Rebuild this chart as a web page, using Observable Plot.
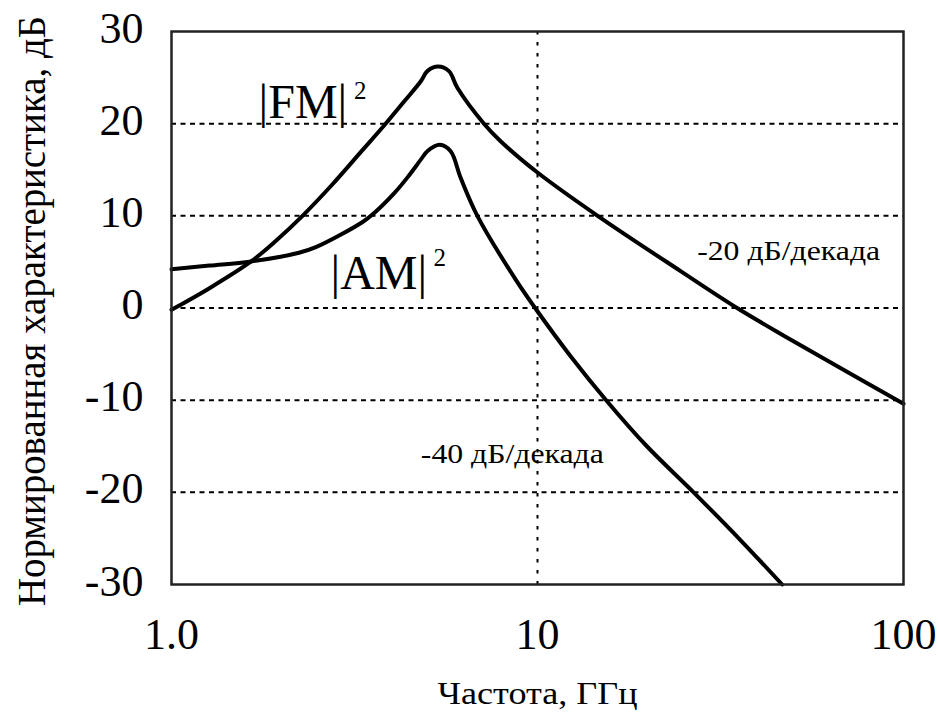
<!DOCTYPE html>
<html>
<head>
<meta charset="utf-8">
<script src="https://cdn.jsdelivr.net/npm/d3@7"></script>
<script src="https://cdn.jsdelivr.net/npm/@observablehq/plot@0.6"></script>
<style>
  html, body { margin: 0; padding: 0; background: #fff; }
  #chart svg { display: block; font-family: "Liberation Serif", "Times New Roman", serif; }
</style>
</head>
<body>
<div id="chart"></div>
<script>
// Frequency (GHz) and normalized response (dB)
const fmFreq = [1.0, 1.27, 1.65, 1.93, 2.28, 2.75, 3.32, 3.81, 4.32, 4.80, 5.0, 5.35, 5.73, 6.04, 7.14, 7.93, 10.0, 14.6, 24.6, 35.1, 47.1, 64.5, 100];
const fmDb   = [-0.2, 2.15, 5.05, 7.3, 10.0, 13.4, 17.1, 19.8, 22.4, 24.6, 25.7, 26.2, 25.7, 23.9, 20.0, 18.1, 14.7, 10.0, 4.0, 0.0, -3.0, -6.1, -10.4];

const amFreq = [1.0, 1.27, 1.65, 2.23, 2.48, 3.32, 3.58, 4.05, 4.42, 4.80, 5.0, 5.41, 5.79, 6.17, 6.85, 8.71, 9.85, 12.3, 15.4, 19.9, 26.7, 35.9, 46.6];
const amDb   = [4.2, 4.6, 5.05, 6.0, 6.6, 9.3, 10.3, 12.4, 14.2, 16.1, 17.0, 17.7, 17.0, 14.1, 10.0, 3.1, 0.0, -5.2, -10.0, -15.0, -20.0, -25.2, -30.0];

const xTicks = [1, 10, 100];
const xTickLabels = ["1.0", "10", "100"];
const yTicks = [-30, -20, -10, 0, 10, 20, 30];
const yTickLabels = ["-30", "-20", "-10", "0", "10", "20", "30"];
const yGrid = [-20, -10, 0, 10, 20];
const xGrid = [10];

const xTitle = "Частота, ГГц";
const yTitle = "Нормированная характеристика, дБ";

// Curve labels (name, superscript) and slope annotations, placed in data units
const curveNames = ["|FM|", "|AM|"];
const curveNameF = [1.73, 2.72];
const curveNameDb = [20.6, 2.1];
const supText = ["2", "2"];
const supF = [3.15, 5.20];
const supDb = [22.7, 4.6];
const slopeText = ["-20 дБ/декада", "-40 дБ/декада"];
const slopeF = [27.3, 4.80];
const slopeDb = [5.2, -16.8];

const fm = fmFreq.map((f, i) => ({f, db: fmDb[i]}));
const am = amFreq.map((f, i) => ({f, db: amDb[i]}));
const names = curveNames.map((t, i) => ({t, f: curveNameF[i], db: curveNameDb[i]}));
const sups = supText.map((t, i) => ({t, f: supF[i], db: supDb[i]}));
const slopes = slopeText.map((t, i) => ({t, f: slopeF[i], db: slopeDb[i]}));

const font = "Liberation Serif, Times New Roman, serif";

const chart = Plot.plot({
  width: 938,
  height: 726,
  marginLeft: 171,
  marginRight: 35,
  marginTop: 31,
  marginBottom: 142,
  style: {fontFamily: font, background: "#fff", color: "#000", overflow: "visible"},
  x: {type: "log", domain: [1, 100]},
  y: {domain: [-30, 30]},
  marks: [
    Plot.ruleY(yGrid, {stroke: "#000", strokeWidth: 2, strokeDasharray: "5,4.5"}),
    Plot.ruleX(xGrid, {stroke: "#000", strokeWidth: 2, strokeDasharray: "3.5,7.5"}),
    Plot.axisX({ticks: xTicks, tickSize: 0, tickPadding: 33, fontSize: 44, fontFamily: font,
      tickFormat: d => xTickLabels[xTicks.indexOf(d)], label: null}),
    Plot.axisY({ticks: yTicks, tickSize: 0, tickPadding: 28, fontSize: 44, fontFamily: font,
      tickFormat: d => yTickLabels[yTicks.indexOf(d)], dy: -3, label: null}),
    Plot.line(fm, {x: "f", y: "db", stroke: "#000", strokeWidth: 4, curve: "catmull-rom"}),
    Plot.line(am, {x: "f", y: "db", stroke: "#000", strokeWidth: 4, curve: "catmull-rom"}),
    Plot.text(names, {x: "f", y: "db", text: "t", textAnchor: "start", lineAnchor: "bottom", fontSize: 48, fill: "#000"}),
    Plot.text(sups, {x: "f", y: "db", text: "t", textAnchor: "start", lineAnchor: "bottom", fontSize: 25, fill: "#000"}),
    Plot.text(slopes, {x: "f", y: "db", text: "t", textAnchor: "start", lineAnchor: "bottom", fontSize: 28, fill: "#000"}),
    Plot.text([xTitle], {frameAnchor: "bottom", dy: 119, fontSize: 32, fill: "#000"}),
    Plot.text([yTitle], {frameAnchor: "left", textAnchor: "middle", rotate: -90, dx: -139, dy: 3, fontSize: 39, fill: "#000"}),
    Plot.frame({stroke: "#222", strokeWidth: 2.5})
  ]
});

// Stretch long texts to the lengths seen in the reference
const textLengths = new Map([[xTitle, 200], [yTitle, 590], [slopeText[0], 183], [slopeText[1], 183]]);
d3.select(chart).selectAll("text").each(function() {
  const len = textLengths.get(this.textContent);
  if (len) d3.select(this).attr("textLength", len).attr("lengthAdjust", "spacingAndGlyphs");
});
document.getElementById("chart").appendChild(chart);
</script>
</body>
</html>
